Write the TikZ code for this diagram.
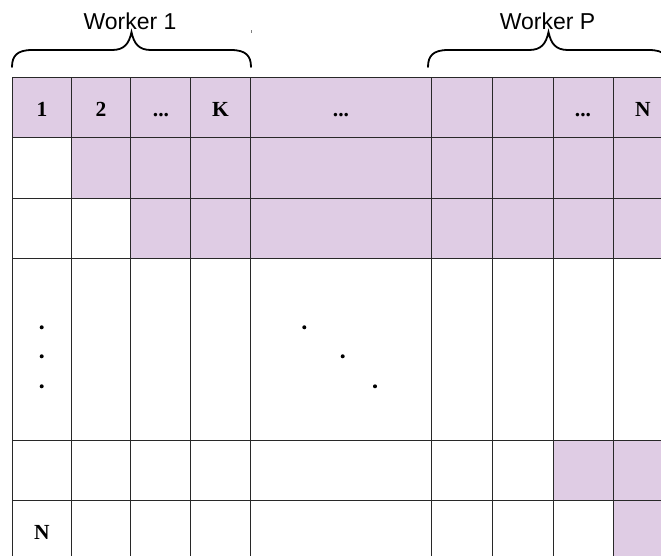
\documentclass[tikz,border=0pt]{standalone}
\usepackage{fontspec}
\setmainfont{Liberation Serif}
\newfontfamily\labelfont{Liberation Sans}
\definecolor{cellfill}{RGB}{223,204,228}
\definecolor{gridline}{RGB}{40,40,40}
\tikzset{
  gridrule/.style={draw=gridline, line width=1pt},
  shaded/.style={fill=cellfill},
  headtext/.style={inner sep=0pt, anchor=base, font=\fontsize{21.5}{24}\selectfont\bfseries},
  workertext/.style={inner sep=0pt, anchor=base, font=\labelfont\fontsize{23}{26}\selectfont},
  bracepath/.style={draw=black, line width=1.8pt, line cap=round},
  dotmark/.style={fill=black}
}
\begin{document}
\begin{tikzpicture}[x=1pt, y=-1pt]
  \useasboundingbox (0,0) rectangle (661,555);
  \clip (0,0) rectangle (661,555);
  \fill[white] (0,0) rectangle (661,555);

  % shaded cells of the upper triangle
  \fill[shaded] (12,77) rectangle (670,137);
  \fill[shaded] (71,137) rectangle (670,198);
  \fill[shaded] (130.5,198) rectangle (670,258.5);
  \fill[shaded] (553,440) rectangle (670,500.5);
  \fill[shaded] (613.5,500.5) rectangle (670,560);

  % grid: vertical rules
  \foreach \x in {12,71,130.5,190.5,250.5,431.5,492.5,553,613.5}
    \draw[gridrule] (\x,77) -- (\x,560);
  % grid: horizontal rules
  \foreach \y in {77,137,198,258.5,440,500.5}
    \draw[gridrule] (12,\y) -- (670,\y);

  % header labels
  \node[headtext] (h1) at (42,116) {1};
  \node[headtext] (h2) at (101,116) {2};
  \node[headtext] (h3) at (161,116) {...};
  \node[headtext] (hK) at (220.5,116) {K};
  \node[headtext] (hmid) at (341,116) {...};
  \node[headtext] (hP) at (583,116) {...};
  \node[headtext] (hN) at (643,116) {N};
  \node[headtext] (rowN) at (42,539) {N};

  % vertical ellipsis in the first column
  \fill[dotmark] (41.7,327.3) circle (2pt);
  \fill[dotmark] (41.7,356.3) circle (2pt);
  \fill[dotmark] (41.7,386.3) circle (2pt);
  % diagonal ellipsis
  \fill[dotmark] (304.3,327.3) circle (2pt);
  \fill[dotmark] (342.7,356.3) circle (2pt);
  \fill[dotmark] (375,386.3) circle (2pt);

  % braces over the worker blocks
  \draw[bracepath] (12,67) .. controls (12,56) and (17,50) .. (32,50)
    -- (112,50) .. controls (124,50) and (129,44) .. (131.5,32)
    .. controls (134,44) and (139,50) .. (151,50)
    -- (231,50) .. controls (246,50) and (251,56) .. (251,67);
  \draw[bracepath] (428,67) .. controls (428,56) and (433,50) .. (448,50)
    -- (529,50) .. controls (541,50) and (546,44) .. (548.5,32)
    .. controls (551,44) and (556,50) .. (568,50)
    -- (649,50) .. controls (664,50) and (669,56) .. (669,67);
  \fill[gray] (250.6,30) rectangle (251.6,33);

  % worker labels
  \node[workertext] (w1) at (130,29) {Worker 1};
  \node[workertext] (wP) at (547.5,29) {Worker P};
\end{tikzpicture}
\end{document}
